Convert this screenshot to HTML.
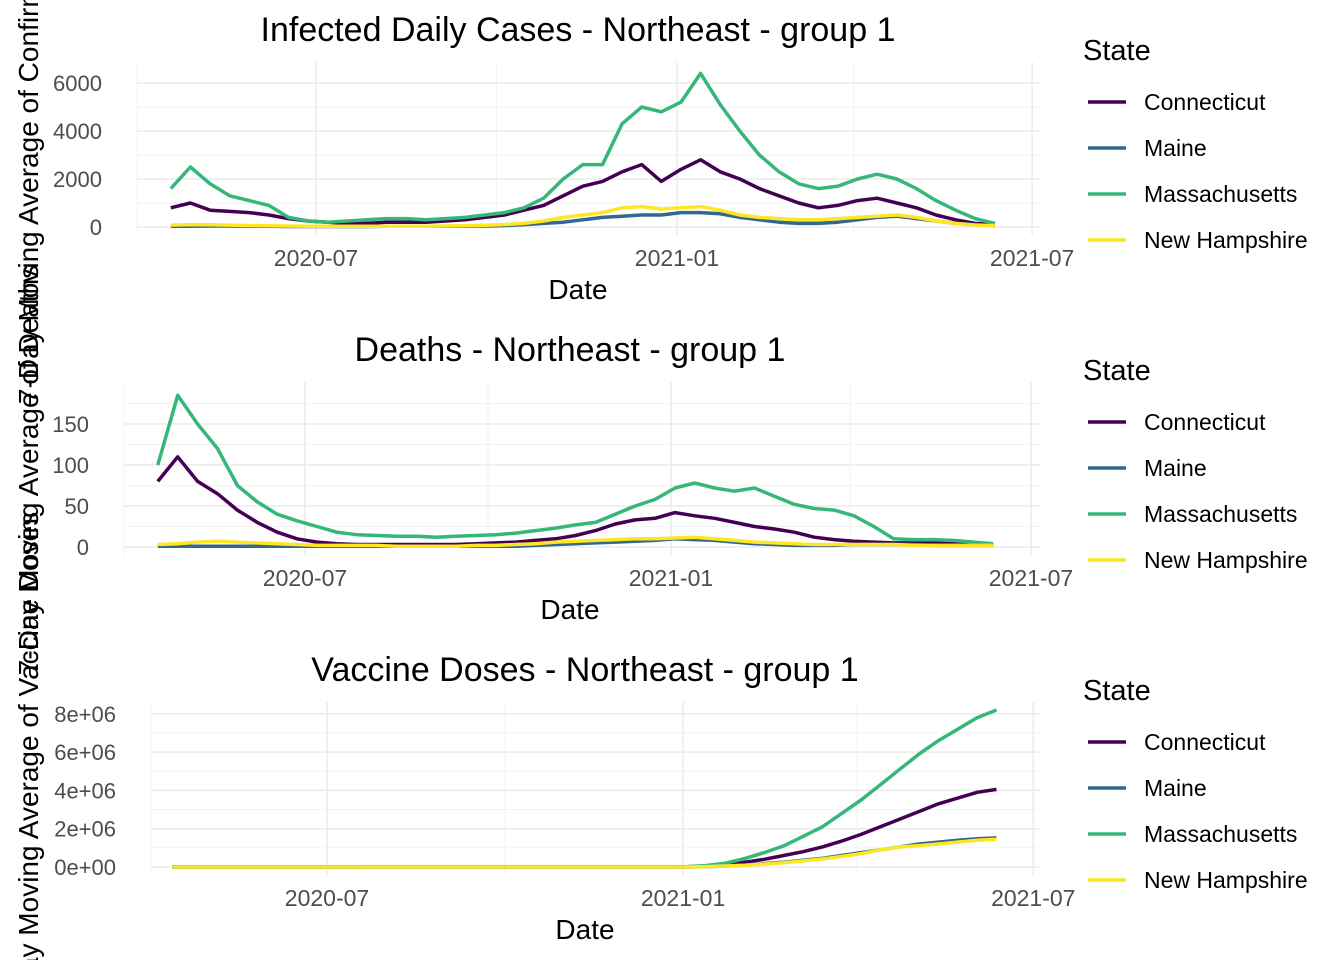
<!DOCTYPE html>
<html><head><meta charset="utf-8"><style>
html,body{margin:0;padding:0;background:#fff;overflow:hidden;width:1344px;height:960px;}
svg{display:block;font-family:"Liberation Sans",Arial,sans-serif;overflow:hidden;}
</style></head><body>
<svg id="chart" width="1344" height="960" viewBox="0 0 1344 960"></svg>
<script>
const days = [108,118,128,138,148,158,168,178,188,198,208,218,228,238,248,258,268,278,288,298,308,318,328,338,348,358,368,378,388,398,408,418,428,438,448,458,468,478,488,498,508,518,528];
const states = ["Connecticut","Maine","Massachusetts","New Hampshire"];
const colors = ["#440154","#31688E","#35B779","#FDE725"];
const casesCT = [800,1000,700,650,600,500,350,250,200,150,150,200,200,200,250,300,400,500,700,900,1300,1700,1900,2300,2600,1900,2400,2800,2300,2000,1600,1300,1000,800,900,1100,1200,1000,800,500,300,150,100];
const casesME = [30,30,40,40,30,30,20,20,20,20,20,30,30,30,30,30,40,60,100,150,200,300,400,450,500,500,600,600,550,400,300,200,150,150,200,300,400,450,350,250,150,100,60];
const casesMA = [1600,2500,1800,1300,1100,900,400,250,200,250,300,350,350,300,350,400,500,600,800,1200,2000,2600,2600,4300,5000,4800,5200,6400,5100,4000,3000,2300,1800,1600,1700,2000,2200,2000,1600,1100,700,350,150];
const casesNH = [80,100,90,80,60,50,40,30,30,30,30,30,30,30,40,50,70,100,150,250,400,500,600,800,850,750,800,850,700,500,400,350,300,300,350,400,450,500,400,250,150,80,60];
const deathsCT = [80,110,80,65,45,30,18,10,6,4,3,3,3,3,3,3,4,5,6,8,10,14,20,28,33,35,42,38,35,30,25,22,18,12,9,7,6,5,5,5,4,3,3];
const deathsME = [1,1,1,1,1,1,1,1,1,1,1,1,1,1,1,1,1,1,1,2,3,4,5,6,7,8,10,9,8,6,4,3,2,2,2,3,3,3,3,2,2,2,2];
const deathsMA = [100,185,150,120,75,55,40,32,25,18,15,14,13,13,12,13,14,15,17,20,23,27,30,40,50,58,72,78,72,68,72,62,52,47,45,38,25,10,9,9,8,6,4];
const deathsNH = [3,4,6,7,6,5,4,3,2,2,2,2,1,1,1,1,2,2,3,4,6,7,8,9,10,10,11,12,10,8,6,5,4,3,3,3,3,3,2,2,2,2,2];
const vaxDays = [102,368,378,388,398,408,418,428,438,448,458,468,478,488,498,508,518,528];
const vaxCT = [0,0.01,0.05,0.12,0.25,0.4,0.6,0.8,1.05,1.35,1.7,2.1,2.5,2.9,3.3,3.6,3.9,4.05];
const vaxME = [0,0,0.02,0.05,0.1,0.18,0.25,0.35,0.45,0.6,0.75,0.9,1.05,1.2,1.3,1.4,1.48,1.52];
const vaxMA = [0,0.01,0.08,0.2,0.45,0.75,1.1,1.6,2.1,2.8,3.5,4.3,5.1,5.9,6.6,7.2,7.8,8.2];
const vaxNH = [0,0,0.02,0.05,0.09,0.15,0.22,0.32,0.42,0.55,0.7,0.9,1.05,1.12,1.2,1.3,1.4,1.45];
const casesTicks = [0,2000,4000,6000];
const deathsTicks = [0,50,100,150];
const vaxTicks = [0,2,4,6,8];
const vaxTickLabels = ["0e+00","2e+06","4e+06","6e+06","8e+06"];
const xTickDays = [182,366,547];
const xTickLabels = ["2020-07","2021-01","2021-07"];

const svg = document.getElementById('chart');
const NS = "http://www.w3.org/2000/svg";
function mk(tag, attrs, parent){const e=document.createElementNS(NS,tag);for(const k in attrs)e.setAttribute(k,attrs[k]);(parent||svg).appendChild(e);return e;}

const panels = [
 {title:"Infected Daily Cases - Northeast - group 1", titleX:578, top:62, bottom:235, left:137, right:1040, x07:316, k:1.962, y0:227, ypu:24/1000, ticks:casesTicks, labels:casesTicks.map(String), lblX:102, minor:[1000,3000,5000], xd:days, series:[casesCT,casesME,casesMA,casesNH], dateY:290, key:"cases"},
 {title:"Deaths - Northeast - group 1", titleX:570, top:382, bottom:555, left:124, right:1040, x07:305, k:1.989, y0:547, ypu:0.82, ticks:deathsTicks, labels:deathsTicks.map(String), lblX:89, minor:[25,75,125,175], xd:days, series:[deathsCT,deathsME,deathsMA,deathsNH], dateY:610, key:"deaths"},
 {title:"Vaccine Doses - Northeast - group 1", titleX:585, top:702, bottom:875, left:151, right:1040, x07:327, k:1.935, y0:867, ypu:19.15, ticks:vaxTicks, labels:vaxTickLabels, lblX:116, minor:[1,3,5,7], xd:vaxDays, series:[vaxCT,vaxME,vaxMA,vaxNH], dateY:930, key:"vaccines"}
];

panels.forEach((p,pi)=>{
  const g = mk('g',{});
  
  
  const xs = d => p.x07 + (d-182)*p.k;
  const ys = v => p.y0 - v*p.ypu;
  p.minor.forEach(v=>{const l=mk('line',{x1:p.left,x2:p.right,y1:ys(v),y2:ys(v),stroke:"#f2f2f2","stroke-width":1},g);
    });
  [91,274,456].forEach(d=>{const x=xs(d); if(x>=p.left-1){const l=mk('line',{x1:x,x2:x,y1:p.top,y2:p.bottom,stroke:"#f2f2f2","stroke-width":1},g);
    }});
  p.ticks.forEach((v,i)=>{const y=ys(v);
    const l=mk('line',{x1:p.left,x2:p.right,y1:y,y2:y,stroke:"#ebebeb","stroke-width":1.5},g);
    
    const t=mk('text',{x:p.lblX,y:y+8,"text-anchor":"end","font-size":22,fill:"#4d4d4d"},g);
    t.textContent=p.labels[i];
    
  });
  xTickDays.forEach((d,i)=>{const x=xs(d);
    const l=mk('line',{x1:x,x2:x,y1:p.top,y2:p.bottom,stroke:"#ebebeb","stroke-width":1.5},g);
    
    const t=mk('text',{x:x,y:p.bottom+31,"text-anchor":"middle","font-size":23,fill:"#4d4d4d"},g);
    t.textContent=xTickLabels[i];
    
  });
  p.series.forEach((vals,si)=>{
    const pts=vals.map((v,i)=>xs(p.xd[i]).toFixed(1)+','+ys(v).toFixed(1)).join(' ');
    const l=mk('polyline',{points:pts,fill:"none",stroke:colors[si],"stroke-width":3.5,"stroke-linejoin":"round"},g);
    
    
  });
  const tt=mk('text',{x:p.titleX,y:p.top-21,"text-anchor":"middle","font-size":34,fill:"#000"},g);
  tt.textContent=p.title;
  
  const xt=mk('text',{x:p.titleX,y:p.dateY+9,"text-anchor":"middle","font-size":28,fill:"#000"},g);
  xt.textContent="Date";
  
  const lg=mk('g',{},g);
  
  const lt=mk('text',{x:1083,y:p.top-2,"font-size":29,fill:"#000"},lg);
  lt.textContent="State";
  
  states.forEach((s,si)=>{const y=p.top+40+si*46;
    const e=mk('g',{},lg);
    
    mk('line',{x1:1088,x2:1126,y1:y,y2:y,stroke:colors[si],"stroke-width":3.5},e);
    const t=mk('text',{x:1144,y:y+8,"font-size":23,fill:"#000"},e);
    t.textContent=s;
  });
});
const yTitles=[["7-Day Moving Average of Confirmed Cases",135],["7-Day Moving Average of Deaths",470],["7-Day Moving Average of Vaccine Doses",765]];
yTitles.forEach(a=>{
  const t=mk('text',{x:0,y:0,transform:`translate(38,${a[1]}) rotate(-90)`,"text-anchor":"middle","font-size":28,fill:"#000"});
  t.textContent=a[0];
  
});
</script>
</body></html>
